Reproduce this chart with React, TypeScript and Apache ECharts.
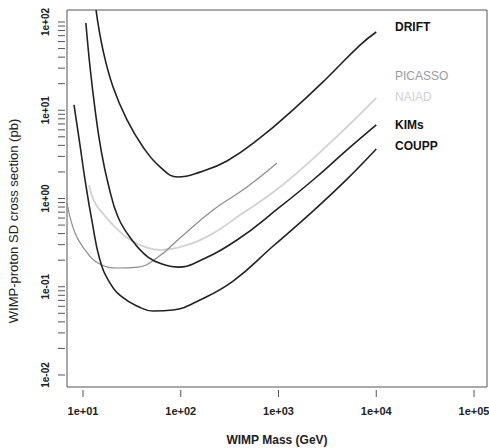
import React, { useEffect, useRef } from 'react';
import * as echarts from 'echarts';

// Axis extents (log scales) and tick values
const xMin = 6.86;
const xMax = 135800;
const yMin = 0.00731;
const yMax = 136.8;
const xTicks = [10, 100, 1000, 10000, 100000];
const yTicks = [0.01, 0.1, 1, 10, 100];
const yMinorMultipliers = [2, 3, 4, 5, 6, 7, 8, 9];

// Series (WIMP mass in GeV, SD cross section in pb)
const driftMass = [13.6, 16.0, 20.3, 28.2, 41.1, 61.4, 93.8, 157, 297, 647, 1407, 3133, 6823, 10000];
const driftSigma = [136, 48.2, 18.3, 7.76, 3.84, 2.28, 1.75, 1.99, 2.66, 4.85, 10.1, 23.2, 54.8, 77];

const kimsMass = [10.7, 11.8, 13.3, 15.3, 18.0, 22.8, 31.7, 46.2, 69.0, 93.7, 140, 376, 1035, 2254, 5024, 10000];
const kimsSigma = [97.4, 30.9, 10.1, 3.55, 1.5, 0.617, 0.339, 0.217, 0.176, 0.167, 0.186, 0.339, 0.802, 1.62, 3.55, 6.81];

const couppMass = [8.09, 9.31, 10.5, 12.4, 14.9, 18.9, 25.1, 35.7, 52.0, 83.4, 157, 343, 859, 2254, 5024, 10000];
const couppSigma = [11.5, 4.04, 1.62, 0.542, 0.201, 0.11, 0.0766, 0.0605, 0.0531, 0.0546, 0.0708, 0.116, 0.282, 0.721, 1.66, 3.64];

const picassoMass = [6.86, 8.28, 10.5, 14.2, 22.8, 36.6, 58.5, 98.2, 214, 476, 966];
const picassoSigma = [0.889, 0.406, 0.261, 0.186, 0.163, 0.167, 0.217, 0.357, 0.741, 1.35, 2.52];

const naiadMass = [11.5, 13.3, 16.8, 22.8, 31.7, 46.2, 61.4, 98.2, 199, 404, 1035, 3365, 10000];
const naiadSigma = [1.42, 0.889, 0.634, 0.44, 0.33, 0.275, 0.261, 0.282, 0.385, 0.65, 1.35, 4.26, 13.8];

const seriesNames = ['DRIFT', 'PICASSO', 'NAIAD', 'KIMs', 'COUPP'];

const FONT = '"Liberation Sans", Arial, Helvetica, sans-serif';

const pairs = (xs: number[], ys: number[]) => xs.map((x, i) => [x, ys[i]]);

const fmt = (v: number) => {
  const l = Math.log10(v);
  const e = Math.round(l);
  if (Math.abs(l - e) > 1e-6) return '';
  return '1e' + (e < 0 ? '-' : '+') + String(Math.abs(e)).padStart(2, '0');
};

export default function App() {
  const ref = useRef<HTMLDivElement>(null);

  useEffect(() => {
    if (!ref.current) return;
    const chart = echarts.init(ref.current, null, { renderer: 'svg' });

    const tickData: number[][] = [];
    xTicks.forEach((v) => tickData.push([v, yMin, 0]));
    yTicks.forEach((v) => tickData.push([xMin, v, 1]));
    yTicks.slice(0, -1).forEach((d) =>
      yMinorMultipliers.forEach((m) => tickData.push([xMin, d * m, 1]))
    );

    const lineSeries = (name: string, data: number[][], color: string, width: number, z: number) => ({
      name,
      type: 'line',
      data,
      smooth: 0.45,
      symbol: 'none',
      silent: true,
      z,
      lineStyle: { color, width },
    });

    const label = (text: string, y: number, color: string, weight: string) => ({
      type: 'text',
      left: 395,
      top: y - 7,
      style: { text, fill: color, font: `${weight} 12px ${FONT}` },
    });

    chart.setOption({
      animation: false,
      backgroundColor: '#ffffff',
      grid: {
        left: 67,
        top: 10,
        right: 2,
        bottom: 61,
        show: true,
        borderColor: '#555',
        borderWidth: 1,
        backgroundColor: 'transparent',
        outerBoundsMode: 'none',
      },
      xAxis: {
        type: 'log',
        logBase: 10,
        min: xMin,
        max: xMax,
        offset: 2,
        axisLine: { show: false },
        axisTick: { show: false },
        splitLine: { show: false },
        minorTick: { show: false },
        axisLabel: {
          formatter: fmt,
          margin: 16,
          fontSize: 11,
          fontFamily: FONT,
          color: '#222',
          fontWeight: 'bold',
        },
      },
      yAxis: {
        type: 'log',
        logBase: 10,
        min: yMin,
        max: yMax,
        offset: 2,
        axisLine: { show: false },
        axisTick: { show: false },
        splitLine: { show: false },
        minorTick: { show: false },
        axisLabel: {
          formatter: fmt,
          rotate: 90,
          margin: 15,
          fontSize: 10,
          fontFamily: FONT,
          color: '#222',
          fontWeight: 'bold',
        },
      },
      graphic: [
        label(seriesNames[0], 28, '#111', 'bold'),
        label(seriesNames[1], 77, '#9a9a9a', 'normal'),
        label(seriesNames[2], 98, '#cfcfcf', 'normal'),
        label(seriesNames[3], 126, '#111', 'bold'),
        label(seriesNames[4], 147, '#111', 'bold'),
        {
          type: 'text',
          x: 277,
          y: 440,
          style: {
            text: 'WIMP Mass (GeV)',
            fill: '#222',
            font: `bold 12px ${FONT}`,
            align: 'center',
            verticalAlign: 'middle',
          },
        },
        {
          type: 'text',
          x: 13,
          y: 221,
          rotation: Math.PI / 2,
          style: {
            text: 'WIMP-proton SD cross section (pb)',
            fill: '#222',
            font: `normal 13px ${FONT}`,
            align: 'center',
            verticalAlign: 'middle',
          },
        },
      ],
      series: [
        lineSeries(seriesNames[2], pairs(naiadMass, naiadSigma), '#d2d2d2', 1.8, 2),
        lineSeries(seriesNames[1], pairs(picassoMass, picassoSigma), '#8c8c8c', 1.2, 3),
        lineSeries(seriesNames[0], pairs(driftMass, driftSigma), '#222', 1.6, 4),
        lineSeries(seriesNames[3], pairs(kimsMass, kimsSigma), '#222', 1.6, 4),
        lineSeries(seriesNames[4], pairs(couppMass, couppSigma), '#222', 1.6, 4),
        {
          name: 'ticks',
          type: 'custom',
          silent: true,
          clip: false,
          z: 10,
          encode: { x: 0, y: 1 },
          data: tickData,
          renderItem: (params: any, api: any) => {
            const cs = params.coordSys;
            const kind = api.value(2);
            if (kind === 0) {
              const x = api.coord([api.value(0), yMin])[0];
              const yb = cs.y + cs.height;
              return {
                type: 'line',
                shape: { x1: x, y1: yb + 3, x2: x, y2: yb + 10 },
                style: { stroke: '#555', lineWidth: 1 },
              };
            }
            const y = api.coord([xMin, api.value(1)])[1];
            return {
              type: 'line',
              shape: { x1: cs.x - 2, y1: y, x2: cs.x - 9, y2: y },
              style: { stroke: '#555', lineWidth: 1 },
            };
          },
        },
      ],
    });

    return () => chart.dispose();
  }, []);

  return (
    <div
      ref={ref}
      style={{ position: 'fixed', left: 0, top: 0, width: 489, height: 448, background: '#fff' }}
    />
  );
}
